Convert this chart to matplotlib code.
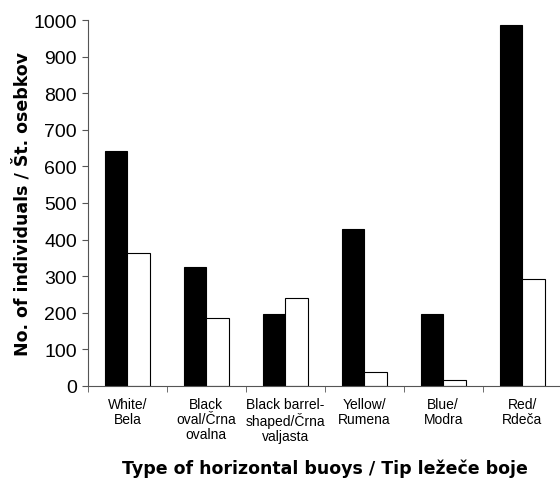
import numpy as np
import matplotlib
matplotlib.use("Agg")
import matplotlib.pyplot as plt

# Kategorije in vrednosti
kategorije = ["White/\nBela", "Black\noval/Črna\novalna", "Black barrel-\nshaped/Črna\nvaljasta",
              "Yellow/\nRumena", "Blue/\nModra", "Red/\nRdeča"]
crne = [641, 324, 195, 428, 195, 988]
bele = [364, 184, 239, 38, 16, 291]
y_ticki = [0, 100, 200, 300, 400, 500, 600, 700, 800, 900, 1000]

fig = plt.figure(figsize=(5.6, 4.81), dpi=100)
ax = fig.add_axes([0.157, 0.196, 0.846, 0.760])

x = np.arange(len(kategorije))
sirina = 0.287
ax.bar(x - sirina / 2, crne, width=sirina, color="black", edgecolor="black", linewidth=0.8)
ax.bar(x + sirina / 2, bele, width=sirina, color="white", edgecolor="black", linewidth=0.8)

ax.set_xlim(-0.5, len(kategorije) - 0.5)
ax.set_ylim(0, 1000)
ax.set_yticks(y_ticki)
ax.set_yticklabels([str(v) for v in y_ticki], fontsize=14, family="Liberation Sans")

# oznake kategorij na sredini, crtice na mejah
ax.set_xticks(x)
ax.set_xticklabels(kategorije, fontsize=10, family="Liberation Sans", linespacing=1.1, va="top")
ax.tick_params(axis="x", length=0, pad=8)
ax.set_xticks(np.arange(len(kategorije) + 1) - 0.5, minor=True)
ax.tick_params(axis="x", which="minor", length=4, direction="out", color="#555555")
ax.tick_params(axis="y", length=4, direction="out", color="#555555", pad=4)

for s in ["top", "right"]:
    ax.spines[s].set_visible(False)
ax.spines["left"].set_color("#555555")
ax.spines["bottom"].set_color("#555555")

ax.set_xlabel("Type of horizontal buoys / Tip ležeče boje", fontsize=12.5, fontweight="bold",
              family="DejaVu Sans", labelpad=11)
ax.set_ylabel("No. of individuals / Št. osebkov", fontsize=12.5, fontweight="bold",
              family="DejaVu Sans", labelpad=1)

fig.savefig("out.png", dpi=100)
